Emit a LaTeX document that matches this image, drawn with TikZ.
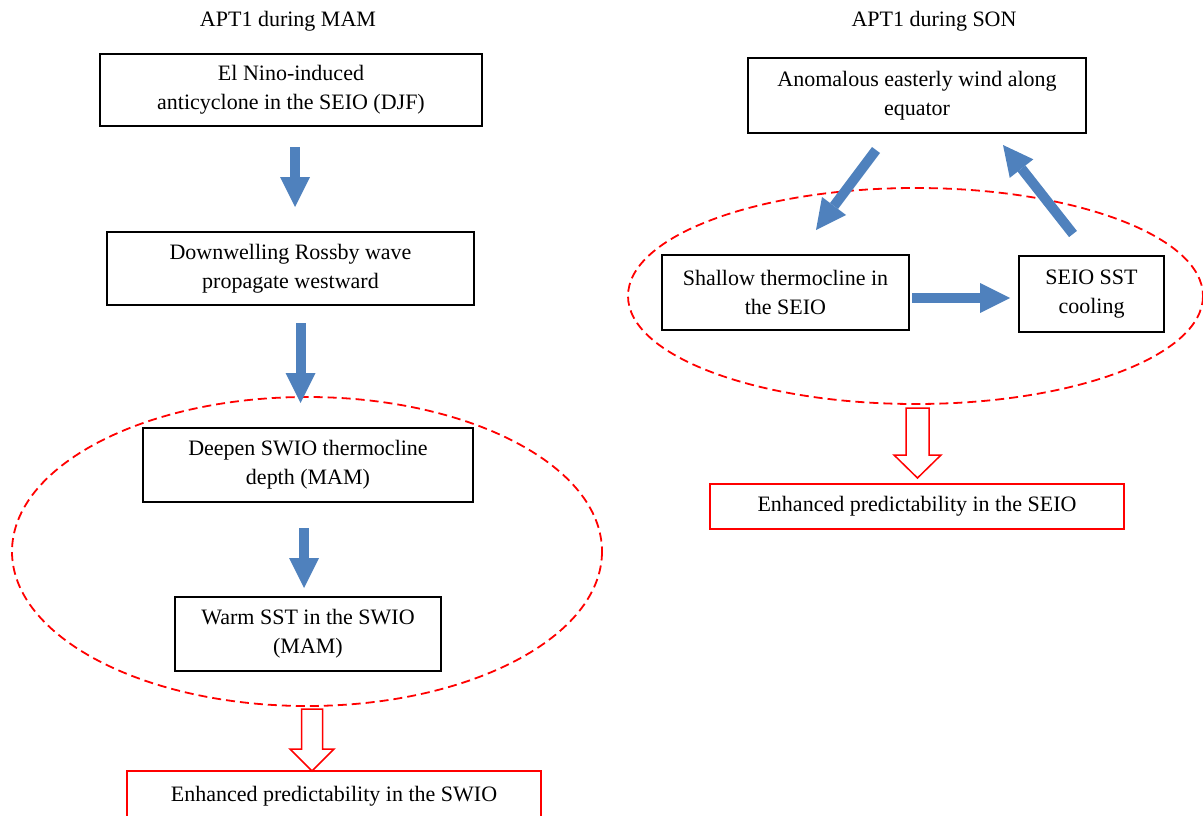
\documentclass[tikz,border=0pt]{standalone}
\usepackage{fontspec}
\setmainfont{Liberation Serif}
\usetikzlibrary{arrows.meta}
\definecolor{arrowblue}{HTML}{4F81BD}
\tikzset{
  txt/.style={font=\fontsize{22}{29}\selectfont, align=center, inner sep=0pt},
  bbox/.style={txt, draw=black, line width=1.5pt},
  rbox/.style={txt, draw=red, line width=1.5pt},
  bluearrow/.style={draw=arrowblue, line width=10pt,
    -{Triangle[length=30pt,width=30pt,line width=0pt]}},
  hollow/.style={draw=red, line width=1.5pt, fill=white, line join=miter},
  loop/.style={draw=red, line width=1.8pt, dash pattern=on 9pt off 5pt}
}
\begin{document}
\begin{tikzpicture}[x=1pt,y=-1pt]
\useasboundingbox (0,0) rectangle (1203,816);
\clip (0,0) rectangle (1203,816);
% ellipses
\draw[loop] (307,551.5) ellipse [x radius=295, y radius=154.5];
\draw[loop] (915.5,296) ellipse [x radius=287.5, y radius=108];
% titles
\node[txt] (tl) at (288,21) {APT1 during MAM};
\node[txt] (tr) at (934,21) {APT1 during SON};
% left boxes
\node[bbox, minimum width=382pt, minimum height=72pt] (b1) at (291,90) {El Nino-induced\\anticyclone in the SEIO (DJF)};
\node[bbox, minimum width=367pt, minimum height=73pt] (b2) at (290.5,268.5) {Downwelling Rossby wave\\propagate westward};
\node[bbox, minimum width=330pt, minimum height=74pt] (b3) at (308,465) {Deepen SWIO thermocline\\depth (MAM)};
\node[bbox, minimum width=266pt, minimum height=74pt] (b4) at (308,634) {Warm SST in the SWIO\\(MAM)};
\draw[rbox] (127,771) rectangle (541,840);
\node[txt] (b5) at (334,796) {Enhanced predictability in the SWIO};
% right boxes
\node[bbox, minimum width=338pt, minimum height=75pt] (r1) at (917,95.5) {Anomalous easterly wind along\\equator};
\node[bbox, minimum width=247pt, minimum height=75pt] (r2) at (785.5,292.5) {Shallow thermocline in\\the SEIO};
\node[bbox, minimum width=145pt, minimum height=76pt] (r3) at (1091.5,294) {SEIO SST\\cooling};
\node[rbox, minimum width=414pt, minimum height=45pt] (r4) at (917,506.5) {Enhanced predictability in the SEIO};
% blue arrow coordinates
\coordinate (a1s) at (295,147);   \coordinate (a1e) at (295,207);
\coordinate (a2s) at (300.5,323); \coordinate (a2e) at (300.5,403);
\coordinate (a3s) at (304,528);   \coordinate (a3e) at (304,588);
\coordinate (a4s) at (876,150);   \coordinate (a4e) at (816,230);
\coordinate (a5s) at (912,298);   \coordinate (a5e) at (1010,298);
\coordinate (a6s) at (1073,234);  \coordinate (a6e) at (1003,145);
\draw[bluearrow] (a1s) -- (a1e);
\draw[bluearrow] (a2s) -- (a2e);
\draw[bluearrow] (a3s) -- (a3e);
\draw[bluearrow] (a4s) -- (a4e);
\draw[bluearrow] (a5s) -- (a5e);
\draw[bluearrow] (a6s) -- (a6e);
% hollow red arrows
\draw[hollow] (301.5,709) -- (322.5,709) -- (322.5,749) -- (334,749) -- (312,771)
  -- (290,749) -- (301.5,749) -- cycle;
\draw[hollow] (906,408) -- (929,408) -- (929,455) -- (941,455) -- (917.5,478)
  -- (894,455) -- (906,455) -- cycle;
\end{tikzpicture}
\end{document}
